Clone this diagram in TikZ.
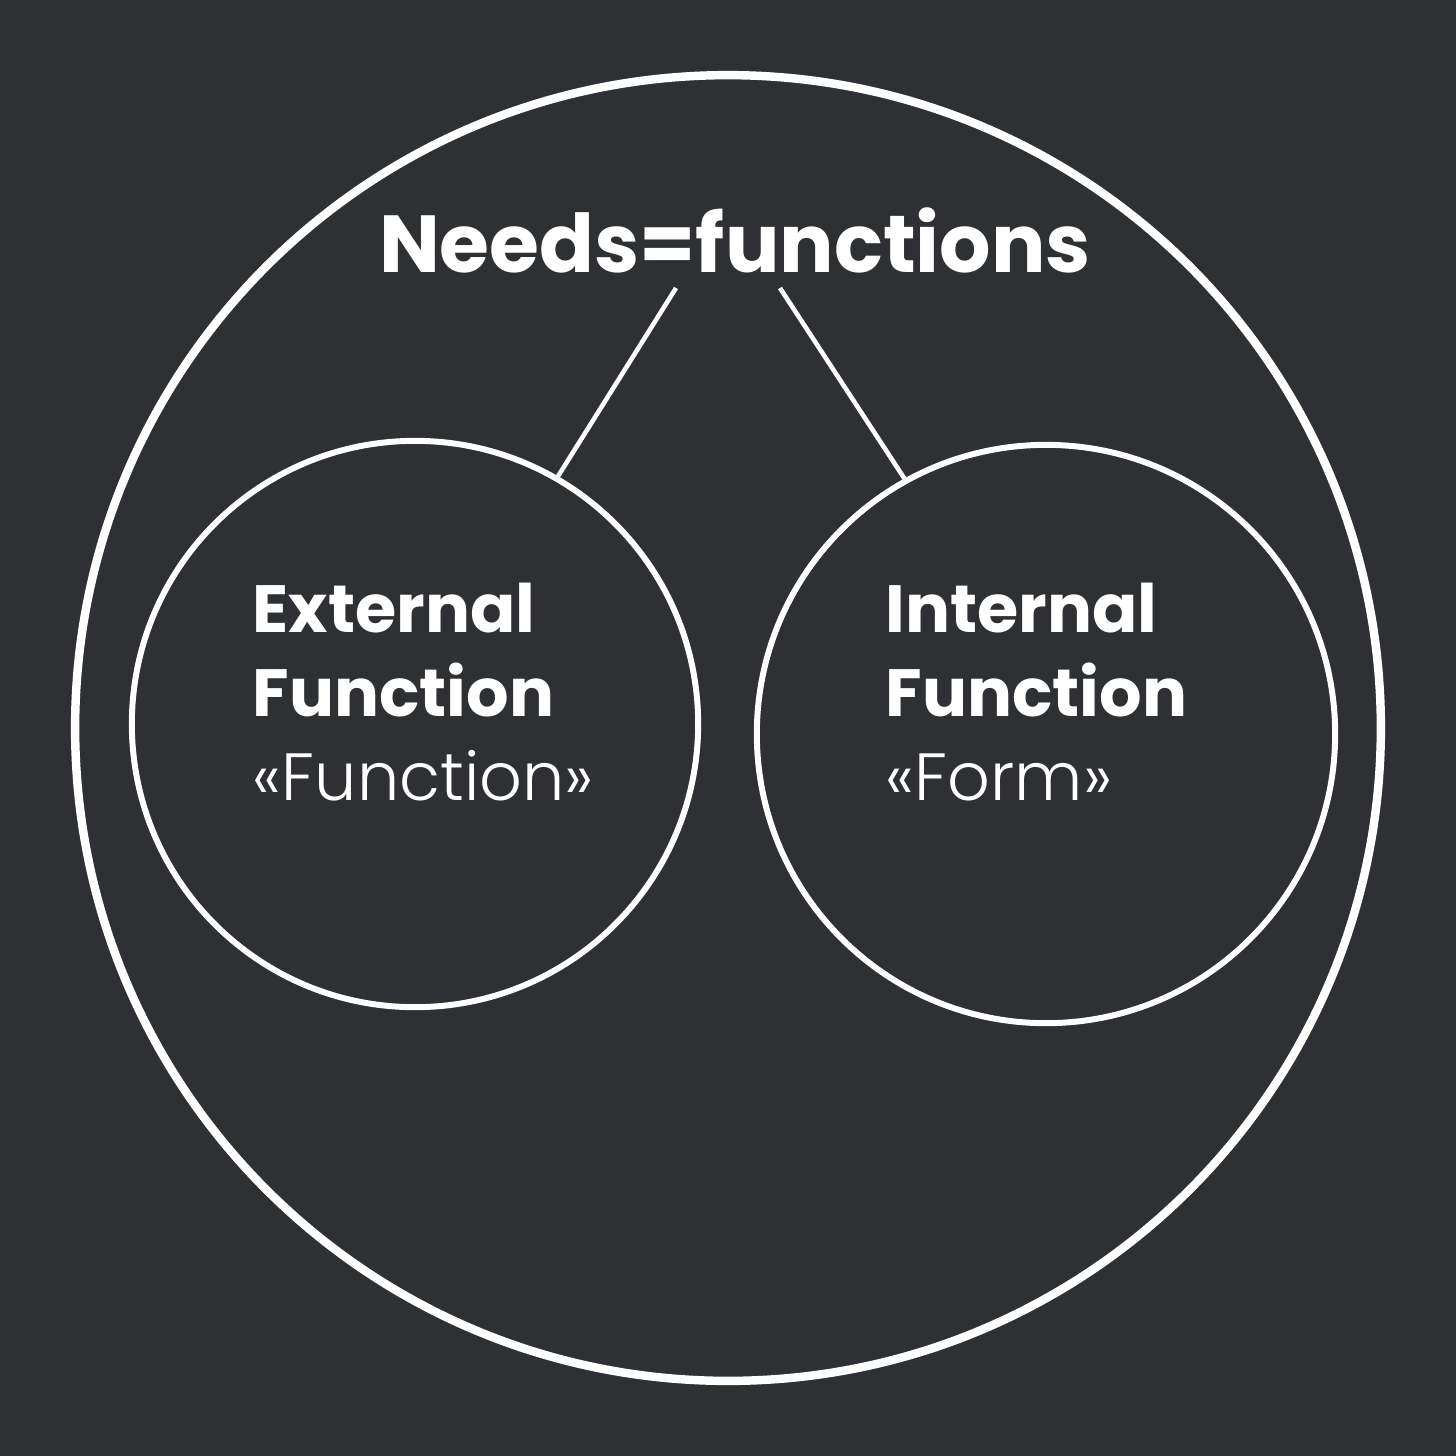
\documentclass[tikz,border=0pt]{standalone}
\usepackage{fontspec}
\setmainfont{Poppins}
\newfontfamily\lightf{Poppins Light}
\definecolor{bg}{HTML}{2E3033}
\begin{document}
\begin{tikzpicture}[x=0.01cm,y=-0.01cm,
  ring/.style={circle,draw=white,inner sep=0pt},
  lab/.style={text=white,align=left,anchor=north west,inner sep=0pt,font=\fontsize{19}{24}\selectfont},
  conn/.style={draw=white,line width=1.3pt}]
\fill[bg] (0,0) rectangle (1456,1456);
\useasboundingbox (0,0) rectangle (1456,1456);
\node[ring,line width=2.4pt,minimum size=13.05cm] (outer) at (728,728) {};
\node[ring,line width=1.7pt,minimum size=5.66cm] (lc) at (415,724) {};
\node[ring,line width=1.7pt,minimum size=5.78cm] (rc) at (1046,734) {};
\node[text=white,font=\bfseries\fontsize{23}{28}\selectfont,inner sep=0pt] (title) at (735,240) {Needs=functions};
\coordinate (t1) at (676,288);
\coordinate (t2) at (780,288);
\draw[conn] (t1) -- (lc.60.7);
\draw[conn] (t2) -- (rc.119.2);
\node[lab] (lt) at (252,582) {\bfseries External\\\bfseries Function\\\lightf «Function»};
\node[lab] (rt) at (885,582) {\bfseries Internal\\\bfseries Function\\\lightf «Form»};
\end{tikzpicture}
\end{document}
